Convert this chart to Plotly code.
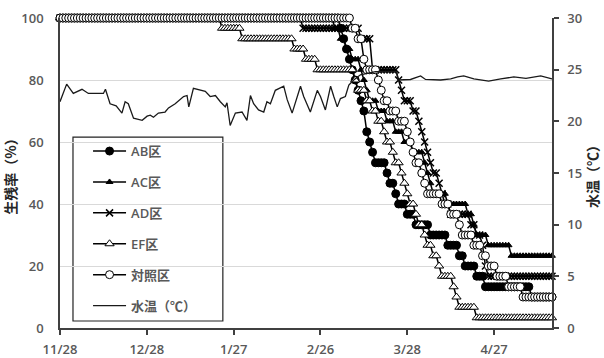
import pandas as pd
import plotly.graph_objects as go

# ---------------- data ----------------
start_date = "2018-11-28"
n_days = 171

# survival rate (%) as run-length pairs: value, number of consecutive days
ab_vals = [100, 96.7, 93.3, 90, 86.7, 83.3, 80, 76.7, 73.3, 70, 63.3, 60, 56.7, 53.3, 50, 46.7, 43.3, 40,
           36.7, 33.3, 30, 26.7, 23.3, 20, 16.7, 13.3, 10]
ab_runs = [97, 1, 1, 1, 1, 1, 1, 1, 1, 1, 1, 1, 1, 4, 1, 2, 1, 3, 3, 5, 6, 4, 2, 4, 3, 16, 8]

ac_vals = [100, 96.7, 93.3, 90, 86.7, 83.3, 80, 76.7, 73.3, 70, 66.7, 63.3, 60, 56.7, 53.3, 50, 46.7, 43.3,
           40, 36.7, 33.3, 30, 26.7, 23.3]
ac_runs = [95, 2, 2, 2, 3, 1, 1, 1, 3, 3, 3, 3, 3, 4, 1, 1, 1, 5, 7, 2, 1, 4, 8, 15]

ad_vals = [100, 96.7, 93.3, 83.3, 80, 76.7, 73.3, 70, 66.7, 63.3, 60, 56.7, 53.3, 50, 46.7, 43.3, 40,
           36.7, 33.3, 30, 26.7, 20, 16.7]
ad_runs = [84, 20, 4, 9, 1, 1, 3, 2, 1, 1, 1, 1, 1, 2, 1, 1, 2, 7, 2, 2, 1, 1, 23]

ef_vals = [100, 96.7, 93.3, 90, 86.7, 83.3, 80, 76.7, 73.3, 70, 66.7, 63.3, 60, 56.7, 53.3, 50, 46.7,
           43.3, 40, 36.7, 33.3, 30, 26.7, 23.3, 20, 16.7, 13.3, 10, 6.7, 3.3]
ef_runs = [56, 7, 18, 4, 4, 13, 1, 3, 2, 2, 2, 1, 2, 1, 2, 1, 1, 1, 2, 1, 2, 1, 2, 2, 1, 4, 1, 1, 6, 27]

ctrl_vals = [100, 96.7, 93.3, 86.7, 83.3, 80, 76.7, 73.3, 70, 66.7, 63.3, 60, 56.7, 53.3, 50, 46.7, 43.3,
             40, 36.7, 33.3, 30, 26.7, 23.3, 20, 16.7, 13.3, 10]
ctrl_runs = [101, 2, 2, 1, 4, 1, 1, 2, 3, 3, 1, 1, 1, 2, 1, 1, 5, 3, 3, 1, 4, 3, 2, 3, 4, 5, 11]

# water temperature (°C): day offset from start, value
temp_day = [0, 2.3, 4.6, 7.6, 9.8, 15, 15.7, 17.3, 19.4, 21.4, 22.5, 23.6, 25.4, 28.4, 30.1,
            31.2, 32.3, 34, 36.3, 37.5, 39.8, 42.7, 43.9, 44.5, 46.1, 48.5, 50.2, 51.9, 53.7, 55.4,
            57.1, 57.7, 58.8, 60.6, 62.9, 64.6, 65.8, 66.9, 68.6, 70.4, 71.5, 72.7, 74.4, 77.3, 78.5,
            80.2, 83.1, 84.2, 86.5, 88.9, 90, 91.7, 93.5, 94.6, 95.8, 96.9, 98.6, 99.8, 101.5, 103.8,
            109, 114.2, 116.3, 116.8, 121.1, 124.6, 126.3, 131.5, 135, 137.4, 139.5, 143, 148.1, 152.3,
            156.8, 161, 166.1, 170]
temp_val = [21.9, 23.6, 22.7, 23.1, 22.7, 22.7, 23.1, 21.7, 21.5, 20.8, 21.9, 21.7, 20.3, 20.1, 20.5,
            20.6, 20.4, 20.8, 20.9, 21.3, 21.7, 22.4, 22.5, 21.4, 23.2, 23.0, 22.9, 22.4, 22.5, 21.9,
            21.4, 21.8, 19.6, 20.8, 20.9, 20.1, 22.5, 21.7, 21.1, 20.9, 21.9, 21.7, 23.0, 23.4, 22.1,
            20.8, 23.4, 22.4, 20.9, 23.0, 22.4, 21.1, 23.4, 22.4, 21.4, 22.2, 22.4, 23.5, 24.0, 24.5,
            24.8, 24.8, 24.8, 24.0, 24.05, 24.4, 24.05, 24.0, 24.1, 24.3, 24.4, 24.1, 23.9, 24.1, 24.3,
            24.15, 24.4, 24.1]

series_names = ["AB区", "AC区", "AD区", "EF区", "対照区"]
temp_name = "水温（℃）"
x_tick_step_days = 30

# ---------------- build ----------------
def expand(vals, runs):
    out = []
    for v, r in zip(vals, runs):
        out.extend([v] * r)
    return out

dates = pd.date_range(start_date, periods=n_days, freq="D")
t0 = pd.Timestamp(start_date)
temp_dates = [t0 + pd.to_timedelta(d, unit="D") for d in temp_day]

series = [expand(ab_vals, ab_runs), expand(ac_vals, ac_runs), expand(ad_vals, ad_runs),
          expand(ef_vals, ef_runs), expand(ctrl_vals, ctrl_runs)]

markers = [
    dict(symbol="circle", size=8, color="black", line=dict(color="black", width=1)),
    dict(symbol="triangle-up", size=6, color="black", line=dict(color="black", width=1)),
    dict(symbol="x-thin", size=7, color="black", line=dict(color="black", width=1.5)),
    dict(symbol="triangle-up", size=8, color="white", line=dict(color="black", width=1)),
    dict(symbol="circle", size=8, color="white", line=dict(color="black", width=1)),
]

FONT = "Open Sans, Noto Sans CJK JP, sans-serif"
GRAY = "#595959"

fig = go.Figure()
for i, (name, ys, mk) in enumerate(zip(series_names, series, markers)):
    fig.add_trace(go.Scatter(
        x=dates, y=ys, name=name, mode="lines+markers",
        line=dict(color="black", width=1.5), marker=mk,
        legendgroup=f"g{i}", cliponaxis=False,
    ))

fig.add_trace(go.Scatter(
    x=temp_dates, y=temp_val, name=temp_name, mode="lines",
    line=dict(color="#1a1a1a", width=1.3), yaxis="y2", legendgroup="g5",
))

axis_line = "#404040"
fig.update_layout(
    width=604, height=358,
    margin=dict(l=60, r=52, t=18, b=30),
    paper_bgcolor="white", plot_bgcolor="white",
    font=dict(family=FONT, color=GRAY, size=13),
    showlegend=True,
    legend=dict(
        x=0.057, y=0.619, xanchor="left", yanchor="top",
        bgcolor="rgba(0,0,0,0)", borderwidth=0,
        font=dict(family=FONT, size=13, color=GRAY, weight=600),
        tracegroupgap=11, itemwidth=33,
    ),
    shapes=[dict(
        type="rect", xref="paper", yref="paper",
        x0=0.0264, x1=0.331, y0=0.0226, y1=0.616,
        line=dict(color="#222222", width=1.2), fillcolor="white", layer="between",
    )],
    xaxis=dict(
        type="date", automargin=False,
        range=[dates[0], dates[-1]],
        tick0=start_date, dtick=x_tick_step_days * 86400000,
        tickformat="%-m/%-d",
        showline=True, linecolor=axis_line, linewidth=1.5,
        ticks="outside", ticklen=5, tickcolor=axis_line, tickwidth=1.5,
        ticklabelstandoff=4,
        showgrid=False, zeroline=False,
        tickfont=dict(family=FONT, size=13, color=GRAY, weight=600),
    ),
    yaxis=dict(
        range=[0, 100], dtick=20, automargin=False,
        showline=True, linecolor=axis_line, linewidth=1.5,
        showgrid=True, gridcolor="#d9d9d9", gridwidth=1,
        zeroline=False, ticks="",
        ticklabelstandoff=12,
        tickfont=dict(family=FONT, size=13, color=GRAY, weight=600),
        title=dict(text="生残率（%）", standoff=6,
                   font=dict(family="Noto Sans CJK JP", size=14, color="#262626", weight="bold")),
    ),
    yaxis2=dict(
        range=[0, 30], dtick=5, overlaying="y", side="right", automargin=False,
        showline=True, linecolor=axis_line, linewidth=1.5,
        ticks="outside", ticklen=5, tickcolor=axis_line, tickwidth=1.5,
        ticklabelstandoff=6,
        showgrid=False, zeroline=False,
        tickfont=dict(family=FONT, size=13, color=GRAY, weight=600),
        title=dict(text="水温（℃）", standoff=4,
                   font=dict(family="Noto Sans CJK JP", size=14, color="#262626", weight="bold")),
    ),
)

fig.write_html("out.html")
